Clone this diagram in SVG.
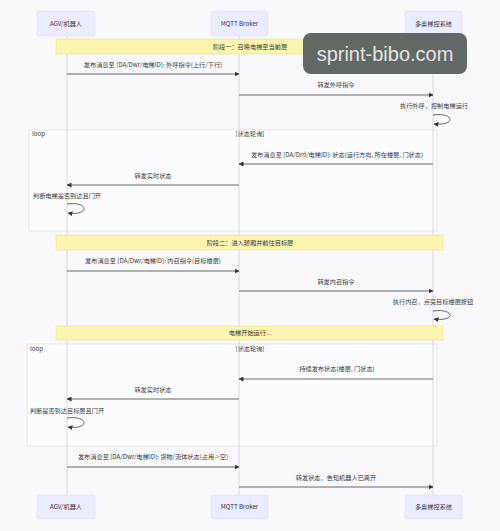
<svg xmlns="http://www.w3.org/2000/svg" width="500" height="531" viewBox="0 0 500 531">
<defs>
<style>
text{font-family:"Noto Sans CJK SC","Liberation Sans",sans-serif;font-size:6.2px;fill:#3a3a3a}
.actor rect{fill:#ececff;stroke:#e0dcf5;stroke-width:0.6}
.note rect{fill:#fbf5b0;stroke:#e8e08a;stroke-width:0.6}
.life{stroke:#d0d0d8;stroke-width:0.8}
.msg{stroke:#444;stroke-width:0.8;fill:none}
.frame{fill:#fcfcfe;stroke:#dcdce4;stroke-width:0.7}
</style>
<marker id="ah" viewBox="0 0 10 10" refX="9" refY="5" markerWidth="5" markerHeight="5" orient="auto-start-reverse" markerUnits="userSpaceOnUse">
<path d="M0,0 L10,5 L0,10 z" fill="#333"/>
</marker>
</defs>
<rect width="500" height="531" fill="#f9f9fc"/>

<g id="loop1">
<rect class="frame" x="29" y="130" width="408" height="101"/>
<text x="32" y="136">loop</text>
<text x="250" y="136" text-anchor="middle">[状态轮询]</text>
</g>
<g id="loop2">
<rect class="frame" x="27" y="344" width="410" height="102"/>
<text x="30" y="351">loop</text>
<text x="250" y="351" text-anchor="middle">[状态轮询]</text>
</g>

<g id="lifelines">
<line class="life" x1="67" y1="36" x2="67" y2="495"/>
<line class="life" x1="239" y1="36" x2="239" y2="495"/>
<line class="life" x1="433" y1="36" x2="433" y2="495"/>
</g>

<g id="actor-agv-top" class="actor"><rect x="37" y="11" width="58" height="25" rx="2"/><text x="66" y="26" text-anchor="middle">AGV/机器人</text></g>
<g id="actor-mqtt-top" class="actor"><rect x="211" y="11" width="57" height="25" rx="2"/><text x="239.5" y="26" text-anchor="middle">MQTT Broker</text></g>
<g id="actor-elev-top" class="actor"><rect x="405" y="11" width="57" height="25" rx="2"/><text x="433.5" y="26" text-anchor="middle">多奥梯控系统</text></g>

<g id="actor-agv-bottom" class="actor"><rect x="37" y="495" width="58" height="24" rx="2"/><text x="66" y="509" text-anchor="middle">AGV/机器人</text></g>
<g id="actor-mqtt-bottom" class="actor"><rect x="211" y="495" width="57" height="24" rx="2"/><text x="239.5" y="509" text-anchor="middle">MQTT Broker</text></g>
<g id="actor-elev-bottom" class="actor"><rect x="405" y="495" width="57" height="24" rx="2"/><text x="433.5" y="509" text-anchor="middle">多奥梯控系统</text></g>

<g id="note-stage1" class="note"><rect x="56" y="39" width="387" height="15"/><text x="250" y="48.7" text-anchor="middle">阶段一：召唤电梯至当前层</text></g>
<g id="note-stage2" class="note"><rect x="56" y="235" width="387" height="15"/><text x="250" y="244.7" text-anchor="middle">阶段二：进入轿厢并前往目标层</text></g>
<g id="note-running" class="note"><rect x="56" y="326" width="387" height="14"/><text x="250" y="335.2" text-anchor="middle">电梯开始运行...</text></g>

<g id="connectors">
<line class="msg" x1="67" y1="74" x2="239" y2="74" marker-end="url(#ah)"/>
<line class="msg" x1="239" y1="95" x2="433" y2="95" marker-end="url(#ah)"/>
<path class="msg" d="M433,115 C455,112 456,126 434,124" marker-end="url(#ah)"/>
<line class="msg" x1="433" y1="164" x2="239" y2="164" marker-end="url(#ah)"/>
<line class="msg" x1="239" y1="185" x2="67" y2="185" marker-end="url(#ah)"/>
<path class="msg" d="M67,204 C89,201 90,216 68,213" marker-end="url(#ah)"/>
<line class="msg" x1="67" y1="271" x2="239" y2="271" marker-end="url(#ah)"/>
<line class="msg" x1="239" y1="291" x2="433" y2="291" marker-end="url(#ah)"/>
<path class="msg" d="M433,311 C455,308 456,322 434,319" marker-end="url(#ah)"/>
<line class="msg" x1="433" y1="379" x2="239" y2="379" marker-end="url(#ah)"/>
<line class="msg" x1="239" y1="399" x2="67" y2="399" marker-end="url(#ah)"/>
<path class="msg" d="M67,418 C89,415 90,430 68,427" marker-end="url(#ah)"/>
<line class="msg" x1="67" y1="467" x2="239" y2="467" marker-end="url(#ah)"/>
<line class="msg" x1="239" y1="487" x2="433" y2="487" marker-end="url(#ah)"/>
</g>

<g id="labels">
<text x="153" y="67" text-anchor="middle">发布消息至 [DA/Dwr/电梯ID]: 外呼指令(上行/下行)</text>
<text x="336" y="87" text-anchor="middle">转发外呼指令</text>
<text x="434" y="108" text-anchor="middle">执行外呼，控制电梯运行</text>
<text x="337" y="157" text-anchor="middle">发布消息至 [DA/Drd/电梯ID]: 状态(运行方向, 所在楼层, 门状态)</text>
<text x="153" y="178" text-anchor="middle">转发实时状态</text>
<text x="67" y="198" text-anchor="middle">判断电梯是否到达且门开</text>
<text x="153" y="263" text-anchor="middle">发布消息至 [DA/Dwr/电梯ID]: 内召指令(目标楼层)</text>
<text x="336" y="284" text-anchor="middle">转发内召指令</text>
<text x="433" y="304" text-anchor="middle">执行内召，点亮目标楼层按钮</text>
<text x="337" y="371" text-anchor="middle">持续发布状态(楼层, 门状态)</text>
<text x="153" y="392" text-anchor="middle">转发实时状态</text>
<text x="67" y="413" text-anchor="middle">判断是否到达目标层且门开</text>
<text x="153" y="459" text-anchor="middle">发布消息至 [DA/Dwr/电梯ID]: 货物/流体状态(占用-&gt;空)</text>
<text x="336" y="480" text-anchor="middle">转发状态，告知机器人已离开</text>
</g>

<g id="watermark">
<rect x="303" y="33" width="164" height="41" rx="8" fill="#555b5b" opacity="0.92"/>
<text x="385" y="61" text-anchor="middle" style="font-family:'Liberation Sans','DejaVu Sans',sans-serif;font-size:20px;fill:#e4e4e4">sprint-bibo.com</text>
</g>
</svg>
